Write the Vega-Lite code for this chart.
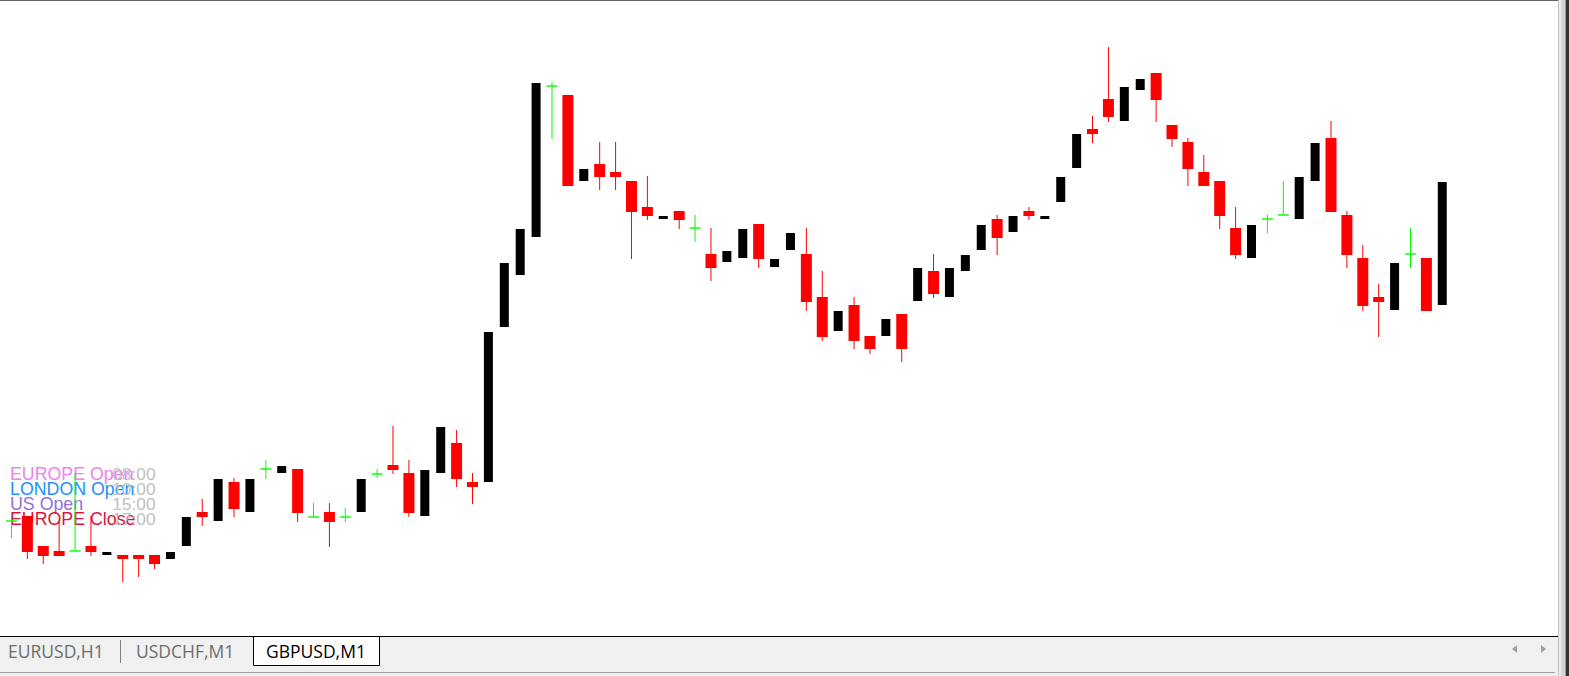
{
"$schema": "https://vega.github.io/schema/vega-lite/v6.json",
"width": 1569, "height": 676,
"autosize": {"type": "fit", "contains": "padding"},
"padding": 0,
"background": "#ffffff",
"config": {"view": {"stroke": null}},
"datasets": {
"sessions": [
{"session": "EUROPE Open", "time": "08:00"},
{"session": "LONDON Open", "time": "10:00"},
{"session": "US Open", "time": "15:00"},
{"session": "EUROPE Close", "time": "17:00"}
],
"candles": [
{"i":0,"o":1.26155,"h":1.26160,"l":1.26138,"c":1.26155},
{"i":1,"o":1.26160,"h":1.26160,"l":1.26117,"c":1.26124},
{"i":2,"o":1.26130,"h":1.26130,"l":1.26112,"c":1.26120},
{"i":3,"o":1.26125,"h":1.26155,"l":1.26120,"c":1.26120},
{"i":4,"o":1.26125,"h":1.26203,"l":1.26125,"c":1.26125},
{"i":5,"o":1.26130,"h":1.26160,"l":1.26120,"c":1.26124},
{"i":6,"o":1.26121,"h":1.26124,"l":1.26121,"c":1.26124},
{"i":7,"o":1.26121,"h":1.26121,"l":1.26094,"c":1.26117},
{"i":8,"o":1.26121,"h":1.26121,"l":1.26099,"c":1.26117},
{"i":9,"o":1.26121,"h":1.26121,"l":1.26107,"c":1.26112},
{"i":10,"o":1.26117,"h":1.26124,"l":1.26117,"c":1.26124},
{"i":11,"o":1.26130,"h":1.26159,"l":1.26130,"c":1.26159},
{"i":12,"o":1.26164,"h":1.26177,"l":1.26150,"c":1.26159},
{"i":13,"o":1.26155,"h":1.26197,"l":1.26155,"c":1.26197},
{"i":14,"o":1.26194,"h":1.26198,"l":1.26159,"c":1.26167},
{"i":15,"o":1.26164,"h":1.26197,"l":1.26164,"c":1.26197},
{"i":16,"o":1.26207,"h":1.26216,"l":1.26197,"c":1.26207},
{"i":17,"o":1.26203,"h":1.26210,"l":1.26203,"c":1.26210},
{"i":18,"o":1.26207,"h":1.26207,"l":1.26154,"c":1.26163},
{"i":19,"o":1.26159,"h":1.26173,"l":1.26159,"c":1.26159},
{"i":20,"o":1.26164,"h":1.26173,"l":1.26129,"c":1.26154},
{"i":21,"o":1.26159,"h":1.26168,"l":1.26154,"c":1.26159},
{"i":22,"o":1.26164,"h":1.26197,"l":1.26164,"c":1.26197},
{"i":23,"o":1.26202,"h":1.26207,"l":1.26198,"c":1.26202},
{"i":24,"o":1.26211,"h":1.26250,"l":1.26202,"c":1.26206},
{"i":25,"o":1.26203,"h":1.26216,"l":1.26159,"c":1.26163},
{"i":26,"o":1.26160,"h":1.26206,"l":1.26160,"c":1.26206},
{"i":27,"o":1.26203,"h":1.26249,"l":1.26203,"c":1.26249},
{"i":28,"o":1.26233,"h":1.26246,"l":1.26189,"c":1.26197},
{"i":29,"o":1.26194,"h":1.26203,"l":1.26172,"c":1.26189},
{"i":30,"o":1.26194,"h":1.26344,"l":1.26194,"c":1.26344},
{"i":31,"o":1.26349,"h":1.26413,"l":1.26349,"c":1.26413},
{"i":32,"o":1.26401,"h":1.26447,"l":1.26401,"c":1.26447},
{"i":33,"o":1.26439,"h":1.26593,"l":1.26439,"c":1.26593},
{"i":34,"o":1.26590,"h":1.26594,"l":1.26537,"c":1.26590},
{"i":35,"o":1.26581,"h":1.26581,"l":1.26490,"c":1.26490},
{"i":36,"o":1.26495,"h":1.26507,"l":1.26495,"c":1.26507},
{"i":37,"o":1.26512,"h":1.26534,"l":1.26486,"c":1.26499},
{"i":38,"o":1.26504,"h":1.26534,"l":1.26486,"c":1.26499},
{"i":39,"o":1.26495,"h":1.26495,"l":1.26417,"c":1.26464},
{"i":40,"o":1.26469,"h":1.26500,"l":1.26456,"c":1.26460},
{"i":41,"o":1.26457,"h":1.26460,"l":1.26457,"c":1.26460},
{"i":42,"o":1.26465,"h":1.26465,"l":1.26447,"c":1.26456},
{"i":43,"o":1.26448,"h":1.26461,"l":1.26434,"c":1.26448},
{"i":44,"o":1.26422,"h":1.26448,"l":1.26395,"c":1.26408},
{"i":45,"o":1.26414,"h":1.26425,"l":1.26414,"c":1.26425},
{"i":46,"o":1.26418,"h":1.26447,"l":1.26418,"c":1.26447},
{"i":47,"o":1.26452,"h":1.26452,"l":1.26408,"c":1.26417},
{"i":48,"o":1.26409,"h":1.26417,"l":1.26409,"c":1.26417},
{"i":49,"o":1.26426,"h":1.26443,"l":1.26426,"c":1.26443},
{"i":50,"o":1.26422,"h":1.26448,"l":1.26365,"c":1.26374},
{"i":51,"o":1.26379,"h":1.26405,"l":1.26335,"c":1.26339},
{"i":52,"o":1.26345,"h":1.26365,"l":1.26345,"c":1.26365},
{"i":53,"o":1.26371,"h":1.26379,"l":1.26327,"c":1.26335},
{"i":54,"o":1.26340,"h":1.26340,"l":1.26322,"c":1.26327},
{"i":55,"o":1.26340,"h":1.26357,"l":1.26340,"c":1.26357},
{"i":56,"o":1.26362,"h":1.26362,"l":1.26314,"c":1.26327},
{"i":57,"o":1.26375,"h":1.26408,"l":1.26375,"c":1.26408},
{"i":58,"o":1.26405,"h":1.26422,"l":1.26378,"c":1.26382},
{"i":59,"o":1.26379,"h":1.26408,"l":1.26379,"c":1.26408},
{"i":60,"o":1.26405,"h":1.26421,"l":1.26405,"c":1.26421},
{"i":61,"o":1.26426,"h":1.26451,"l":1.26426,"c":1.26451},
{"i":62,"o":1.26457,"h":1.26461,"l":1.26421,"c":1.26438},
{"i":63,"o":1.26444,"h":1.26460,"l":1.26444,"c":1.26460},
{"i":64,"o":1.26465,"h":1.26469,"l":1.26456,"c":1.26460},
{"i":65,"o":1.26457,"h":1.26460,"l":1.26457,"c":1.26460},
{"i":66,"o":1.26474,"h":1.26499,"l":1.26474,"c":1.26499},
{"i":67,"o":1.26508,"h":1.26542,"l":1.26508,"c":1.26542},
{"i":68,"o":1.26547,"h":1.26560,"l":1.26533,"c":1.26542},
{"i":69,"o":1.26577,"h":1.26629,"l":1.26554,"c":1.26559},
{"i":70,"o":1.26555,"h":1.26589,"l":1.26555,"c":1.26589},
{"i":71,"o":1.26586,"h":1.26597,"l":1.26586,"c":1.26597},
{"i":72,"o":1.26603,"h":1.26603,"l":1.26554,"c":1.26576},
{"i":73,"o":1.26551,"h":1.26551,"l":1.26529,"c":1.26537},
{"i":74,"o":1.26534,"h":1.26538,"l":1.26490,"c":1.26507},
{"i":75,"o":1.26504,"h":1.26521,"l":1.26490,"c":1.26490},
{"i":76,"o":1.26495,"h":1.26495,"l":1.26447,"c":1.26460},
{"i":77,"o":1.26448,"h":1.26469,"l":1.26417,"c":1.26421},
{"i":78,"o":1.26418,"h":1.26451,"l":1.26418,"c":1.26451},
{"i":79,"o":1.26457,"h":1.26461,"l":1.26443,"c":1.26457},
{"i":80,"o":1.26461,"h":1.26495,"l":1.26461,"c":1.26461},
{"i":81,"o":1.26457,"h":1.26499,"l":1.26457,"c":1.26499},
{"i":82,"o":1.26495,"h":1.26533,"l":1.26495,"c":1.26533},
{"i":83,"o":1.26538,"h":1.26555,"l":1.26464,"c":1.26464},
{"i":84,"o":1.26461,"h":1.26465,"l":1.26408,"c":1.26421},
{"i":85,"o":1.26418,"h":1.26431,"l":1.26365,"c":1.26370},
{"i":86,"o":1.26379,"h":1.26392,"l":1.26339,"c":1.26374},
{"i":87,"o":1.26366,"h":1.26413,"l":1.26366,"c":1.26413},
{"i":88,"o":1.26422,"h":1.26448,"l":1.26408,"c":1.26422},
{"i":89,"o":1.26418,"h":1.26418,"l":1.26365,"c":1.26365},
{"i":90,"o":1.26371,"h":1.26494,"l":1.26371,"c":1.26494}
]
},
"layer": [
{
"data": {"name": "sessions"},
"encoding": {
"y": {"field": "session", "type": "ordinal", "sort": null, "axis": null,
"scale": {"type": "point", "domain": ["EUROPE Open", "LONDON Open", "US Open", "EUROPE Close"], "range": [480, 525], "padding": 0}}
},
"layer": [
{"mark": {"type": "text", "align": "left", "baseline": "alphabetic", "font": "Liberation Sans", "fontSize": 17.8, "opacity": 1},
"encoding": {"x": {"value": 10}, "text": {"field": "session"},
"color": {"field": "session", "type": "nominal", "legend": null,
"scale": {"domain": ["EUROPE Open", "LONDON Open", "US Open", "EUROPE Close"], "range": ["#ee82ee", "#1e90ff", "#9370db", "#dc143c"]}}}},
{"mark": {"type": "text", "align": "right", "baseline": "alphabetic", "font": "Liberation Sans", "fontSize": 17.3, "color": "#c0c0c0", "opacity": 1},
"encoding": {"x": {"value": 155.5}, "text": {"field": "time"}}}
]
},
{
"data": {"name": "candles"},
"encoding": {
"x": {"field": "i", "type": "quantitative", "axis": null, "scale": {"domain": [-0.40625, 97.65625], "nice": false, "zero": false}}
},
"layer": [
{"transform": [{"filter": "datum.c < datum.o"}],
"mark": {"type": "rule", "color": "#ff0000", "strokeWidth": 1, "opacity": 1},
"encoding": {"y": {"field": "h", "type": "quantitative", "axis": null, "scale": {"domain": [1.26, 1.26676], "nice": false, "zero": false}}, "y2": {"field": "l"}}},
{"transform": [{"filter": "datum.c < datum.o"}],
"mark": {"type": "bar", "color": "#ff0000", "size": 11, "orient": "vertical", "opacity": 1},
"encoding": {"y": {"field": "o", "type": "quantitative", "axis": null, "scale": {"domain": [1.26, 1.26676], "nice": false, "zero": false}}, "y2": {"field": "c"}}},
{"transform": [{"filter": "datum.c > datum.o"}],
"mark": {"type": "bar", "color": "#000000", "size": 9, "orient": "vertical", "opacity": 1},
"encoding": {"y": {"field": "c", "type": "quantitative", "axis": null, "scale": {"domain": [1.26, 1.26676], "nice": false, "zero": false}}, "y2": {"field": "o"}}},
{"transform": [{"filter": "datum.c == datum.o"}],
"mark": {"type": "rule", "color": "#00ff00", "strokeWidth": 1, "opacity": 1},
"encoding": {"y": {"field": "h", "type": "quantitative", "axis": null, "scale": {"domain": [1.26, 1.26676], "nice": false, "zero": false}}, "y2": {"field": "l"}}},
{"transform": [{"filter": "datum.c == datum.o"}],
"mark": {"type": "tick", "color": "#00ff00", "orient": "horizontal", "size": 11, "thickness": 1.4, "opacity": 1},
"encoding": {"y": {"field": "o", "type": "quantitative", "axis": null, "scale": {"domain": [1.26, 1.26676], "nice": false, "zero": false}}}}
]
},
{"data": {"values": [{}]}, "mark": {"type": "rect", "color": "#646464"}, "encoding": {"x": {"value": 0}, "x2": {"value": 1558}, "y": {"value": 0}, "y2": {"value": 1}}},
{"data": {"values": [{}]}, "mark": {"type": "rect", "color": "#c4c4c4"}, "encoding": {"x": {"value": 1558}, "x2": {"value": 1559}, "y": {"value": 0}, "y2": {"value": 676}}},
{"data": {"values": [{}]}, "mark": {"type": "rect", "color": "#ececec"}, "encoding": {"x": {"value": 1559}, "x2": {"value": 1561}, "y": {"value": 0}, "y2": {"value": 676}}},
{"data": {"values": [{}]}, "mark": {"type": "rect", "color": "#d4d4d4"}, "encoding": {"x": {"value": 1561}, "x2": {"value": 1565}, "y": {"value": 0}, "y2": {"value": 676}}},
{"data": {"values": [{}]}, "mark": {"type": "rect", "color": "#9a9a9a"}, "encoding": {"x": {"value": 1565}, "x2": {"value": 1566}, "y": {"value": 0}, "y2": {"value": 676}}},
{"data": {"values": [{}]}, "mark": {"type": "rect", "color": "#333333"}, "encoding": {"x": {"value": 1566}, "x2": {"value": 1569}, "y": {"value": 0}, "y2": {"value": 676}}},
{"data": {"values": [{}]}, "mark": {"type": "rect", "color": "#f0f0f0"}, "encoding": {"x": {"value": 0}, "x2": {"value": 1558}, "y": {"value": 637}, "y2": {"value": 676}}},
{"data": {"values": [{}]}, "mark": {"type": "rect", "color": "#000000"}, "encoding": {"x": {"value": 0}, "x2": {"value": 1558}, "y": {"value": 636}, "y2": {"value": 637}}},
{"data": {"values": [{}]}, "mark": {"type": "rect", "color": "#a0a0a0"}, "encoding": {"x": {"value": 0}, "x2": {"value": 1555}, "y": {"value": 672}, "y2": {"value": 673}}},
{"data": {"values": [{}]}, "mark": {"type": "rect", "fill": "#ffffff", "stroke": "#000000", "strokeWidth": 1}, "encoding": {"x": {"value": 253.5}, "x2": {"value": 379.5}, "y": {"value": 636.5}, "y2": {"value": 665.5}}},
{"data": {"values": [{}]}, "mark": {"type": "rule", "color": "#808080", "strokeWidth": 1}, "encoding": {"x": {"value": 120.5}, "y": {"value": 640}, "y2": {"value": 663}}},
{"data": {"values": [{}]}, "mark": {"type": "text", "text": "EURUSD,H1", "align": "left", "baseline": "alphabetic", "font": "Open Sans", "fontSize": 17.5, "color": "#6d6d6d"}, "encoding": {"x": {"value": 8}, "y": {"value": 658}}},
{"data": {"values": [{}]}, "mark": {"type": "text", "text": "USDCHF,M1", "align": "left", "baseline": "alphabetic", "font": "Open Sans", "fontSize": 17.5, "color": "#6d6d6d"}, "encoding": {"x": {"value": 136}, "y": {"value": 658}}},
{"data": {"values": [{}]}, "mark": {"type": "text", "text": "GBPUSD,M1", "align": "left", "baseline": "alphabetic", "font": "Open Sans", "fontSize": 17.5, "color": "#000000"}, "encoding": {"x": {"value": 266}, "y": {"value": 658}}},
{"data": {"values": [{}]}, "mark": {"type": "point", "shape": "M0.625,-1L-0.625,0L0.625,1Z", "filled": true, "size": 64, "color": "#a0a0a0", "opacity": 1}, "encoding": {"x": {"value": 1514.5}, "y": {"value": 649}}},
{"data": {"values": [{}]}, "mark": {"type": "point", "shape": "M-0.625,-1L0.625,0L-0.625,1Z", "filled": true, "size": 64, "color": "#a0a0a0", "opacity": 1}, "encoding": {"x": {"value": 1543.5}, "y": {"value": 649}}}
],
"resolve": {"scale": {"x": "independent", "y": "independent", "color": "independent"}}
}
